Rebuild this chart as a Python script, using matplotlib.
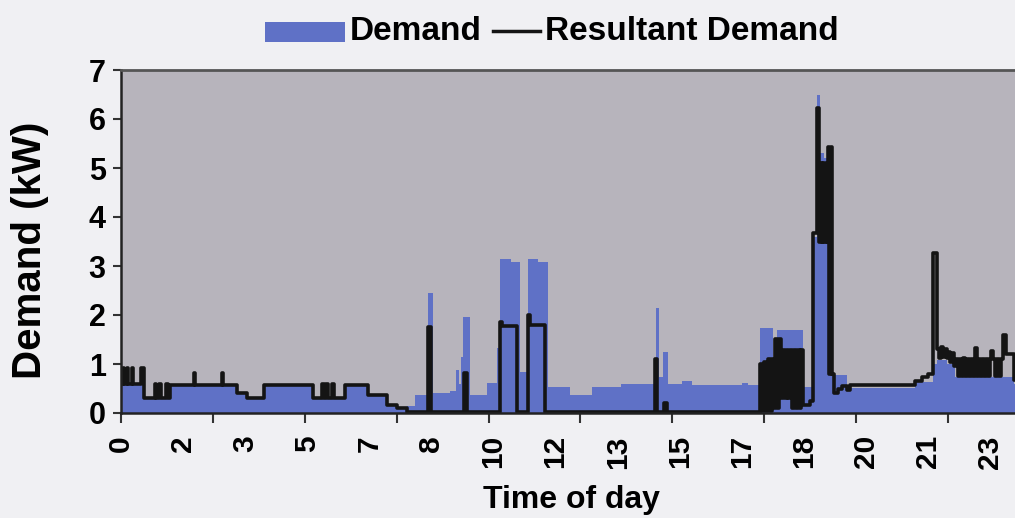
import matplotlib.pyplot as plt
import numpy as np
from matplotlib.patches import Rectangle
from matplotlib.lines import Line2D

plt.rcParams['font.family'] = ['Liberation Sans', 'DejaVu Sans']
plt.rcParams['font.weight'] = 'bold'

# household demand over one day, steps: start minute -> kW
demand_t = [0, 3, 5, 9, 11, 17, 19, 33, 37, 55, 57, 62, 65, 72, 75, 79,
            117, 119, 163, 165, 187, 203, 230, 309, 324, 327, 331, 334, 340, 343,
            361, 398, 428, 444, 460, 474, 494, 502, 530, 540, 544, 548, 551, 562,
            590, 605, 610, 628, 643, 655, 672, 688, 723, 759, 805, 862, 867, 873,
            881, 904, 920, 1000, 1010, 1030, 1050, 1056, 1098, 1115, 1121, 1126,
            1133, 1139, 1146, 1170, 1279, 1308, 1315, 1330, 1344, 1438]
demand_v = [0.60, 0.92, 0.60, 0.92, 0.60, 0.92, 0.60, 0.92, 0.30, 0.60, 0.30, 0.60, 0.30, 0.60, 0.30, 0.57,
            0.81, 0.57, 0.81, 0.57, 0.41, 0.30, 0.57, 0.30, 0.60, 0.30, 0.60, 0.30, 0.60, 0.30,
            0.57, 0.37, 0.16, 0.10, 0.15, 0.37, 2.45, 0.40, 0.45, 0.88, 0.60, 1.14, 1.96, 0.37,
            0.61, 1.33, 3.15, 3.08, 0.84, 3.15, 3.08, 0.53, 0.37, 0.53, 0.60, 2.15, 0.73, 1.24,
            0.60, 0.66, 0.58, 0.62, 0.58, 1.73, 1.00, 1.70, 0.54, 3.60, 6.49, 5.30,
            5.20, 5.43, 0.78, 0.52, 0.63, 1.00, 1.08, 1.00, 0.74, 0.60]

# demand left after on-site generation
resultant_t = [0, 3, 5, 9, 11, 17, 19, 33, 37, 55, 57, 62, 65, 72, 75, 79,
               117, 119, 163, 165, 187, 203, 230, 309, 324, 327, 331, 334, 340, 343,
               361, 398, 428, 444, 460, 495, 500, 553, 558, 611, 614, 638, 655, 658, 683,
               860, 864, 875, 880,
               1030, 1033, 1036, 1039, 1042, 1045, 1048, 1051, 1054, 1057, 1060, 1063,
               1066, 1069, 1072, 1075, 1078, 1081, 1084, 1087, 1090, 1093, 1096, 1098, 1110,
               1115, 1121, 1125, 1127, 1129, 1131, 1133, 1135, 1137, 1139, 1141, 1143, 1145,
               1148, 1155, 1162, 1170, 1174, 1279, 1290, 1300, 1308,
               1315, 1318, 1321, 1324, 1327, 1330, 1333, 1336, 1339, 1342, 1345, 1348,
               1351, 1354, 1357, 1360, 1363, 1366, 1369, 1372, 1375, 1378, 1381, 1384,
               1387, 1390, 1393, 1396, 1399, 1402, 1405, 1408, 1411, 1414, 1417,
               1421, 1425, 1438]
resultant_v = [0.60, 0.92, 0.60, 0.92, 0.60, 0.92, 0.60, 0.92, 0.30, 0.60, 0.30, 0.60, 0.30, 0.60, 0.30, 0.57,
               0.81, 0.57, 0.81, 0.57, 0.41, 0.30, 0.57, 0.30, 0.60, 0.30, 0.60, 0.30, 0.60, 0.30,
               0.57, 0.37, 0.16, 0.10, 0.03, 1.75, 0.03, 0.81, 0.03, 1.86, 1.78, 0.03, 2.00, 1.80, 0.03,
               1.10, 0.03, 0.20, 0.03,
               1.00, 0.05, 1.05, 0.05, 1.10, 0.05, 1.10, 0.10, 1.52, 0.10, 1.52, 0.30,
               1.29, 0.30, 1.29, 0.30, 1.29, 0.10, 1.29, 0.10, 1.29, 0.10, 1.29, 0.16, 0.25,
               3.67, 6.22, 3.50, 5.10, 3.50, 5.10, 3.50, 5.10, 3.50, 5.43, 0.80, 5.43, 0.80,
               0.41, 0.50, 0.55, 0.47, 0.57, 0.66, 0.74, 0.80, 3.27,
               1.30, 1.12, 1.35, 1.15, 1.30, 1.12, 1.25, 1.05, 1.22, 0.95, 1.10, 0.75,
               1.10, 0.75, 1.12, 0.75, 1.10, 0.75, 1.10, 0.75, 1.33, 0.75, 1.10, 0.75,
               1.10, 0.75, 1.10, 0.75, 1.10, 1.27, 1.10, 0.75, 1.10, 0.75, 1.10,
               1.60, 1.20, 0.67]

hour_labels = ['0', '2', '3', '5', '7', '8', '10', '12', '13', '15', '17', '18', '20', '21', '23']

blue = '#5f71c6'
W, H = 1015, 518
fig = plt.figure(figsize=(W / 100, H / 100), dpi=100, facecolor='#f0f0f3')
ax = fig.add_axes([121 / W, (H - 413) / H, (W - 121) / W, 343 / H])
ax.set_facecolor('#b7b4bc')

t = np.append(demand_t, 1440)
v = np.append(demand_v, demand_v[-1])
ax.fill_between(t, v, step='post', color=blue, lw=0)
rt = np.append(resultant_t, 1440)
rv = np.append(resultant_v, resultant_v[-1])
ax.step(rt, rv, where='post', color='#141414', lw=2.6)

ax.set_xlim(0, 1440)
ax.set_ylim(0, 7)

# tick marks every 148 min, labels every 100 min
ax.xaxis.remove_overlapping_locs = False
ax.set_xticks(np.arange(0, 1440, 148))
ax.set_xticklabels([])
ax.set_xticks(np.arange(0, 1401, 100), hour_labels, minor=True)
ax.tick_params(axis='x', which='major', length=7, width=1.5, color='#333333', direction='out')
ax.tick_params(axis='x', which='minor', length=0, pad=16, labelsize=21.5)
for lbl in ax.get_xticklabels(minor=True):
    lbl.set_rotation(90)
    lbl.set_rotation_mode('default')
    lbl.set_va('top')
    lbl.set_ha('center')
ax.set_yticks(range(8))
ax.tick_params(axis='y', length=6, width=1.5, color='#333333', labelsize=22, pad=5)

for s in ['left', 'bottom']:
    ax.spines[s].set_color('#222222')
    ax.spines[s].set_linewidth(1.8)
ax.spines['top'].set_color('#555555')
ax.spines['top'].set_linewidth(2)
ax.spines['right'].set_visible(False)

fig.text(30 / W, 1 - 250 / H, 'Demand (kW)', rotation=90, ha='center', va='center', fontsize=29, fontweight='bold')
fig.text(571 / W, 1 - 500 / H, 'Time of day', ha='center', va='center', fontsize=23, fontweight='bold')

# legend across the top
fig.add_artist(Rectangle((265 / W, 1 - 42 / H), 80 / W, 20 / H, transform=fig.transFigure, color=blue, lw=0))
fig.text(350 / W, 1 - 31 / H, 'Demand', ha='left', va='center', fontsize=24, fontweight='bold')
fig.add_artist(Line2D([493 / W, 540 / W], [1 - 31 / H, 1 - 31 / H], transform=fig.transFigure, color='#141414', lw=2.5))
fig.text(545 / W, 1 - 31 / H, 'Resultant Demand', ha='left', va='center', fontsize=24, fontweight='bold')

fig.savefig('out.png', dpi=100, facecolor=fig.get_facecolor())
